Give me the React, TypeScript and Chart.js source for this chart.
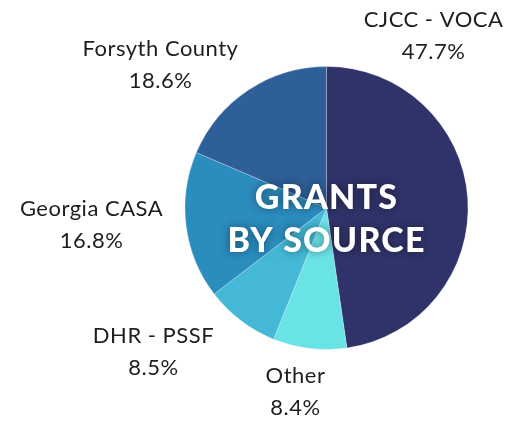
import React, { useEffect, useRef } from "react";
import { Chart, registerables } from "chart.js";

Chart.register(...registerables);

const categories = ["CJCC - VOCA", "Other", "DHR - PSSF", "Georgia CASA", "Forsyth County"];
const shares = [47.7, 8.4, 8.5, 16.8, 18.6];
const colors = ["#30336a", "#6ae3e7", "#44b8d6", "#2b8cbe", "#2e5f98"];
const titleLines = ["GRANTS", "BY SOURCE"];
// label anchor (centre x offset, name baseline y offset) relative to pie centre
const labelAnchors: [number, number][] = [
  [107, -181],
  [-31, 175],
  [-173, 135],
  [-235, 8],
  [-166, -152],
];

const labelPlugin = {
  id: "labels",
  afterDatasetsDraw(chart: any) {
    const ctx = chart.ctx as any;
    const arc = chart.getDatasetMeta(0).data[0] as any;
    const cx = arc.x;
    const cy = arc.y;
    ctx.save();
    ctx.textAlign = "center";
    ctx.textBaseline = "alphabetic";
    ctx.fillStyle = "#1e1e1e";
    ctx.font = "400 22px Lato";
    ctx.letterSpacing = "0.5px";
    categories.forEach((c, i) => {
      const [dx, dy] = labelAnchors[i];
      ctx.fillText(c, cx + dx, cy + dy);
      ctx.fillText(shares[i].toFixed(1) + "%", cx + dx, cy + dy + 32);
    });
    // centre title
    ctx.font = "900 34px Lato";
    ctx.letterSpacing = "1.2px";
    ctx.fillStyle = "#ffffff";
    ctx.shadowColor = "rgba(0,0,0,0.45)";
    ctx.shadowBlur = 8;
    ctx.fillText(titleLines[0], cx, cy + 1);
    ctx.fillText(titleLines[1], cx, cy + 44);
    ctx.restore();
  },
};

export default function App() {
  const ref = useRef<HTMLCanvasElement>(null);
  useEffect(() => {
    document.body.style.margin = "0";
    const chart = new Chart(ref.current!, {
      type: "pie",
      data: {
        labels: categories,
        datasets: [
          {
            data: shares,
            backgroundColor: colors,
            borderColor: "rgba(255,255,255,0.25)",
            borderWidth: 1,
          },
        ],
      },
      options: {
        animation: false,
        responsive: false,
        layout: { padding: { top: 66, bottom: 71, left: 184.5, right: 56.5 } },
        plugins: { legend: { display: false }, tooltip: { enabled: false } },
      },
      plugins: [labelPlugin],
    });
    return () => chart.destroy();
  }, []);
  return (
    <div style={{ width: 525, height: 421, background: "#fff" }}>
      <canvas ref={ref} width={525} height={421} />
    </div>
  );
}
